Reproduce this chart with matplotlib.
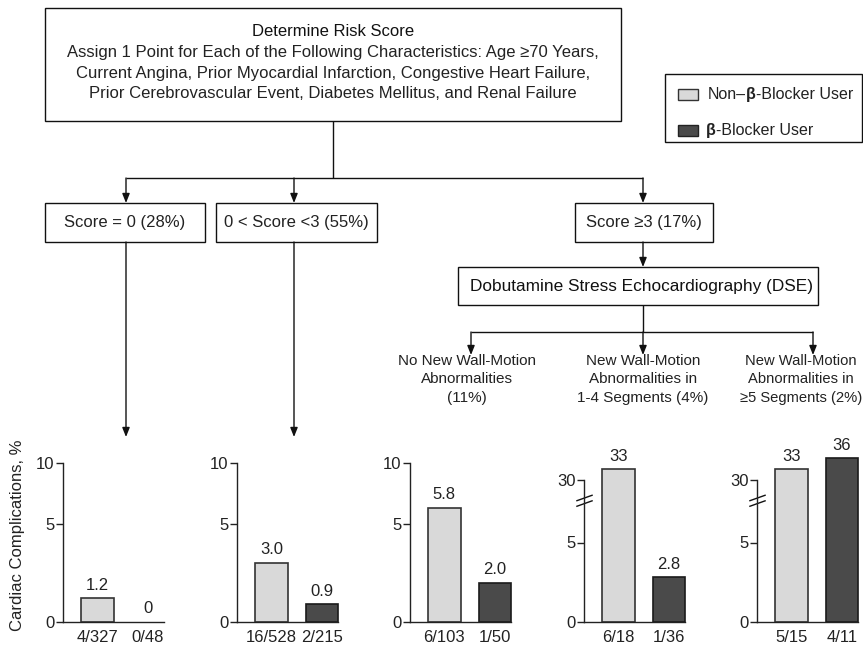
import numpy as np
import matplotlib
matplotlib.use("Agg")
import matplotlib.pyplot as plt
from matplotlib.patches import Rectangle

plt.rcParams['font.family'] = ['Liberation Sans', 'DejaVu Sans']

# ---- data ----
panel_names = ['Score = 0', '0 < Score <3', 'No new WMA', 'WMA 1-4', 'WMA >=5']
nonbb_values = [1.2, 3.0, 5.8, 33, 33]
bb_values = [0, 0.9, 2.0, 2.8, 36]
nonbb_labels = ['1.2', '3.0', '5.8', '33', '33']
bb_labels = ['0', '0.9', '2.0', '2.8', '36']
nonbb_counts = ['4/327', '16/528', '6/103', '6/18', '5/15']
bb_counts = ['0/48', '2/215', '1/50', '1/36', '4/11']
broken = [False, False, False, True, True]
yticks_plain = [0, 5, 10]
yticks_broken = [0, 5, 30]

top_title = 'Determine Risk Score'
top_lines = ['Assign 1 Point for Each of the Following Characteristics: Age \u226570 Years,',
             'Current Angina, Prior Myocardial Infarction, Congestive Heart Failure,',
             'Prior Cerebrovascular Event, Diabetes Mellitus, and Renal Failure']
score_texts = ['Score = 0 (28%)', '0 < Score <3 (55%)', 'Score \u22653 (17%)']
dse_text = 'Dobutamine Stress Echocardiography (DSE)'
wma_texts = ['No New Wall-Motion\nAbnormalities\n(11%)',
             'New Wall-Motion\nAbnormalities in\n1-4 Segments (4%)',
             'New Wall-Motion\nAbnormalities in\n\u22655 Segments (2%)']

LIGHT = '#d9d9d9'
DARK = '#4a4a4a'
TXT = '#222222'
FS = 12

W, H = 863, 650
fig = plt.figure(figsize=(W / 100, H / 100), dpi=100)

# overlay axes in pixel coordinates for the flowchart
fa = fig.add_axes([0, 0, 1, 1])
fa.set_xlim(0, W)
fa.set_ylim(H, 0)
fa.axis('off')


def box(x0, y0, x1, y1):
    fa.add_patch(Rectangle((x0, y0), x1 - x0, y1 - y0, fill=False, ec='#111111', lw=1.0))


def line(xs, ys):
    fa.plot(xs, ys, color='#111111', lw=1.0, solid_capstyle='butt')


def arrow(x, y0, y1):
    fa.annotate('', xy=(x, y1), xytext=(x, y0),
                arrowprops=dict(arrowstyle='-|>,head_length=0.55,head_width=0.22',
                                color='#111111', lw=1.0, shrinkA=0, shrinkB=0))


# top box
box(45, 8, 621, 121)
fa.text(333, 32, top_title, ha='center', va='center', fontsize=FS, color='#111111', fontweight='medium')
for i, t in enumerate(top_lines):
    fa.text(333, 53 + i * 20.5, t, ha='center', va='center', fontsize=FS, color=TXT)

line([333, 333], [121, 178])
line([126, 643], [178, 178])
for x in [126, 294, 643]:
    arrow(x, 178, 203)

# score boxes
score_boxes = [(45, 205), (216, 377), (575, 713)]
for (x0, x1), t in zip(score_boxes, score_texts):
    box(x0, 203, x1, 242)
    fa.text((x0 + x1) / 2, 223, t, ha='center', va='center', fontsize=FS, color=TXT)

arrow(126, 242, 437)
arrow(294, 242, 437)

arrow(643, 242, 267)
box(458, 267, 818, 305)
fa.text(641, 286, dse_text, ha='center', va='center', fontsize=12.4, color='#111111')
line([643, 643], [305, 332])
line([471, 813], [332, 332])
for x in [471, 643, 813]:
    arrow(x, 332, 355)
for x, t, fs in zip([467, 643, 801], wma_texts, [11, 11, 10.6]):
    fa.text(x, 354, t, ha='center', va='top', fontsize=fs, color=TXT, linespacing=1.4)

# legend
box(665, 74, 862, 142)
fa.add_patch(Rectangle((678, 89), 20, 11, fc=LIGHT, ec='#333333', lw=1.0))
fa.add_patch(Rectangle((678, 125), 20, 11, fc=DARK, ec='#222222', lw=1.0))
t1 = fa.text(708, 102, 'Non\u2013', ha='left', va='bottom', fontsize=11.5, color=TXT)
t2 = fa.annotate('\u03b2', xy=(1, 0), xycoords=t1, ha='left', va='bottom', fontsize=11.5,
                 color=TXT, fontweight='bold')
fa.annotate('-Blocker User', xy=(1, 0), xycoords=t2, ha='left', va='bottom', fontsize=11.5, color=TXT)
t3 = fa.text(706, 138, '\u03b2', ha='left', va='bottom', fontsize=11.5, color=TXT, fontweight='bold')
fa.annotate('-Blocker User', xy=(1, 0), xycoords=t3, ha='left', va='bottom', fontsize=11.5, color=TXT)

fig.text(18 / W, 1 - 535 / H, 'Cardiac Complications, %', rotation=90, ha='center', va='center',
         fontsize=FS, color=TXT)


# broken y scale: linear up to 8, compressed above 30
def fwd(v):
    v = np.asarray(v, dtype=float)
    return np.where(v <= 8, v, np.where(v >= 30, 8.9 + (v - 30) * 0.233, 8 + (v - 8) * 0.9 / 22))


def inv(w):
    w = np.asarray(w, dtype=float)
    return np.where(w <= 8, w, np.where(w >= 8.9, 30 + (w - 8.9) / 0.233, 8 + (w - 8) * 22 / 0.9))


axis_left = [63, 237, 410, 584, 757]
for i in range(len(panel_names)):
    ax = fig.add_axes([axis_left[i] / W, (H - 622) / H, 101 / W, 159 / H])
    ax.set_facecolor('none')
    ax.set_yscale('function', functions=(fwd, inv))
    vals = [nonbb_values[i], bb_values[i]]
    ax.bar([0.34, 0.84], vals, width=0.32,
           color=[LIGHT, DARK], edgecolor=['#333333', '#1a1a1a'],
           linewidth=[1.2 if v > 0 else 0 for v in vals], clip_on=False)
    ax.set_xlim(0, 1)
    if broken[i]:
        ax.set_ylim(0, float(inv(10)))
        ax.set_yticks(yticks_broken)
        ax.spines['left'].set_bounds(0, 30)
        for yy in [0.745, 0.78]:
            ax.plot([-0.07, 0.08], [yy - 0.017, yy + 0.017], transform=ax.transAxes,
                    color='#111111', lw=1.0, clip_on=False)
    else:
        ax.set_ylim(0, 10)
        ax.set_yticks(yticks_plain)
    ax.set_xticks([0.34, 0.84])
    ax.set_xticklabels([nonbb_counts[i], bb_counts[i]])
    for x, v, lab in zip([0.34, 0.84], vals, [nonbb_labels[i], bb_labels[i]]):
        ax.annotate(lab, xy=(x, v), xytext=(0, 4), textcoords='offset points', ha='center',
                    va='bottom', fontsize=FS, color=TXT, annotation_clip=False)
    ax.spines['top'].set_visible(False)
    ax.spines['right'].set_visible(False)
    for s in ['left', 'bottom']:
        ax.spines[s].set_color('#222222')
        ax.spines[s].set_linewidth(1.0)
    ax.tick_params(axis='x', length=0, pad=6, labelsize=FS, labelcolor=TXT)
    ax.tick_params(axis='y', length=5, width=1.0, pad=1, labelsize=FS, labelcolor=TXT, color='#222222')
    ax.minorticks_off()

fig.savefig('out.png', dpi=100)
